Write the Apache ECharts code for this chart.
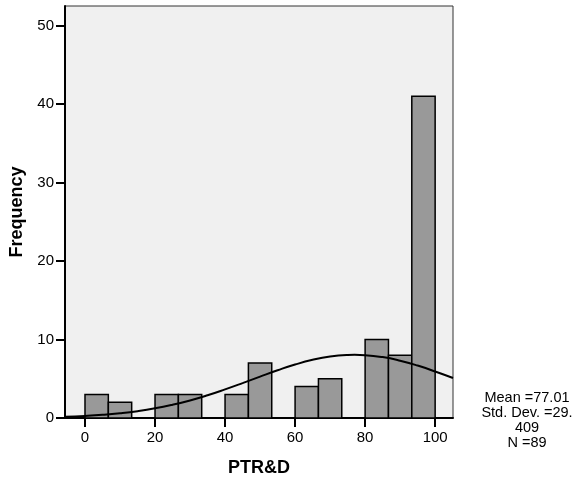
<!DOCTYPE html>
<html>
<head>
<meta charset="utf-8">
<script src="https://cdn.jsdelivr.net/npm/echarts@6/dist/echarts.min.js"></script>
<style>
html,body{margin:0;padding:0;background:#fff;}
#chart{width:575px;height:482px;}
</style>
</head>
<body>
<div id="chart"></div>
<script>
// Histogram bins (PTR&D), 15 bins of width 100/15
var binStarts = [0, 6.667, 13.333, 20, 26.667, 33.333, 40, 46.667, 53.333, 60, 66.667, 73.333, 80, 86.667, 93.333];
var binEnds   = [6.667, 13.333, 20, 26.667, 33.333, 40, 46.667, 53.333, 60, 66.667, 73.333, 80, 86.667, 93.333, 100];
var counts    = [3, 2, 0, 3, 3, 0, 3, 7, 0, 4, 5, 0, 10, 8, 41];

// Normal curve points
var curveX = [-5.7, 0, 5, 10, 15, 20, 25, 30, 35, 40, 45, 50, 55, 60, 65, 70, 75, 77, 80, 85, 90, 95, 100, 105.1];
var curveY = [0.15, 0.26, 0.40, 0.60, 0.87, 1.23, 1.69, 2.24, 2.90, 3.65, 4.45, 5.28, 6.08, 6.81, 7.41, 7.83, 8.03, 8.05, 8.01, 7.76, 7.30, 6.68, 5.93, 5.10];

var xTicks = [0, 20, 40, 60, 80, 100];
var statsLines = ['Mean =77.01', 'Std. Dev. =29.', '409', 'N =89'];

var FONT = '"Liberation Sans", Arial, sans-serif';

var barData = [];
for (var i = 0; i < counts.length; i++) {
  barData.push([binStarts[i], binEnds[i], counts[i]]);
}
var lineData = [];
for (var j = 0; j < curveX.length; j++) {
  lineData.push([curveX[j], curveY[j]]);
}

var chart = echarts.init(document.getElementById('chart'), null, {renderer: 'canvas'});
chart.setOption({
  animation: false,
  backgroundColor: '#ffffff',
  grid: {
    left: 65, right: 122, top: 6, bottom: 62,
    show: true, backgroundColor: '#f0f0f0', borderColor: '#333333', borderWidth: 1
  },
  xAxis: {
    type: 'value',
    min: -5.71, max: 105.1,
    name: 'PTR&D',
    nameLocation: 'middle',
    nameGap: 41,
    nameTextStyle: {fontFamily: FONT, fontWeight: 'bold', fontSize: 18, color: '#000'},
    axisLine: {show: true, onZero: false, lineStyle: {color: '#000', width: 2}},
    axisTick: {show: true, length: 9, lineStyle: {color: '#000', width: 2}, customValues: xTicks},
    axisLabel: {show: true, margin: 12, fontFamily: FONT, fontSize: 15, color: '#000', customValues: xTicks},
    splitLine: {show: false}
  },
  yAxis: {
    type: 'value',
    min: 0, max: 52.5, interval: 10,
    name: 'Frequency',
    nameLocation: 'middle',
    nameGap: 35,
    nameRotate: 90,
    nameTextStyle: {fontFamily: FONT, fontWeight: 'bold', fontSize: 18, color: '#000'},
    axisLine: {show: true, onZero: false, lineStyle: {color: '#000', width: 2}},
    axisTick: {show: true, length: 9, lineStyle: {color: '#000', width: 2}},
    axisLabel: {show: true, margin: 11, fontFamily: FONT, fontSize: 15, color: '#000', showMaxLabel: false},
    splitLine: {show: false}
  },
  graphic: [{
    type: 'text',
    left: 527 - 50, top: 390,
    style: {
      text: statsLines.join('\n'),
      width: 100,
      align: 'center',
      x: 527, y: 390,
      textAlign: 'center',
      font: '14.5px ' + FONT,
      lineHeight: 15,
      fill: '#000'
    }
  }],
  series: [
    {
      type: 'custom',
      data: barData,
      clip: true,
      encode: {x: [0, 1], y: 2},
      renderItem: function (params, api) {
        var h = api.value(2);
        if (!h) return null;
        var p0 = api.coord([api.value(0), h]);
        var p1 = api.coord([api.value(1), 0]);
        return {
          type: 'rect',
          shape: {x: p0[0], y: p0[1], width: p1[0] - p0[0], height: p1[1] - p0[1]},
          style: {fill: '#999999', stroke: '#000000', lineWidth: 1.5}
        };
      },
      z: 2
    },
    {
      type: 'line',
      data: lineData,
      smooth: true,
      showSymbol: false,
      symbol: 'none',
      lineStyle: {color: '#000', width: 2},
      z: 3
    }
  ]
});
</script>
</body>
</html>
